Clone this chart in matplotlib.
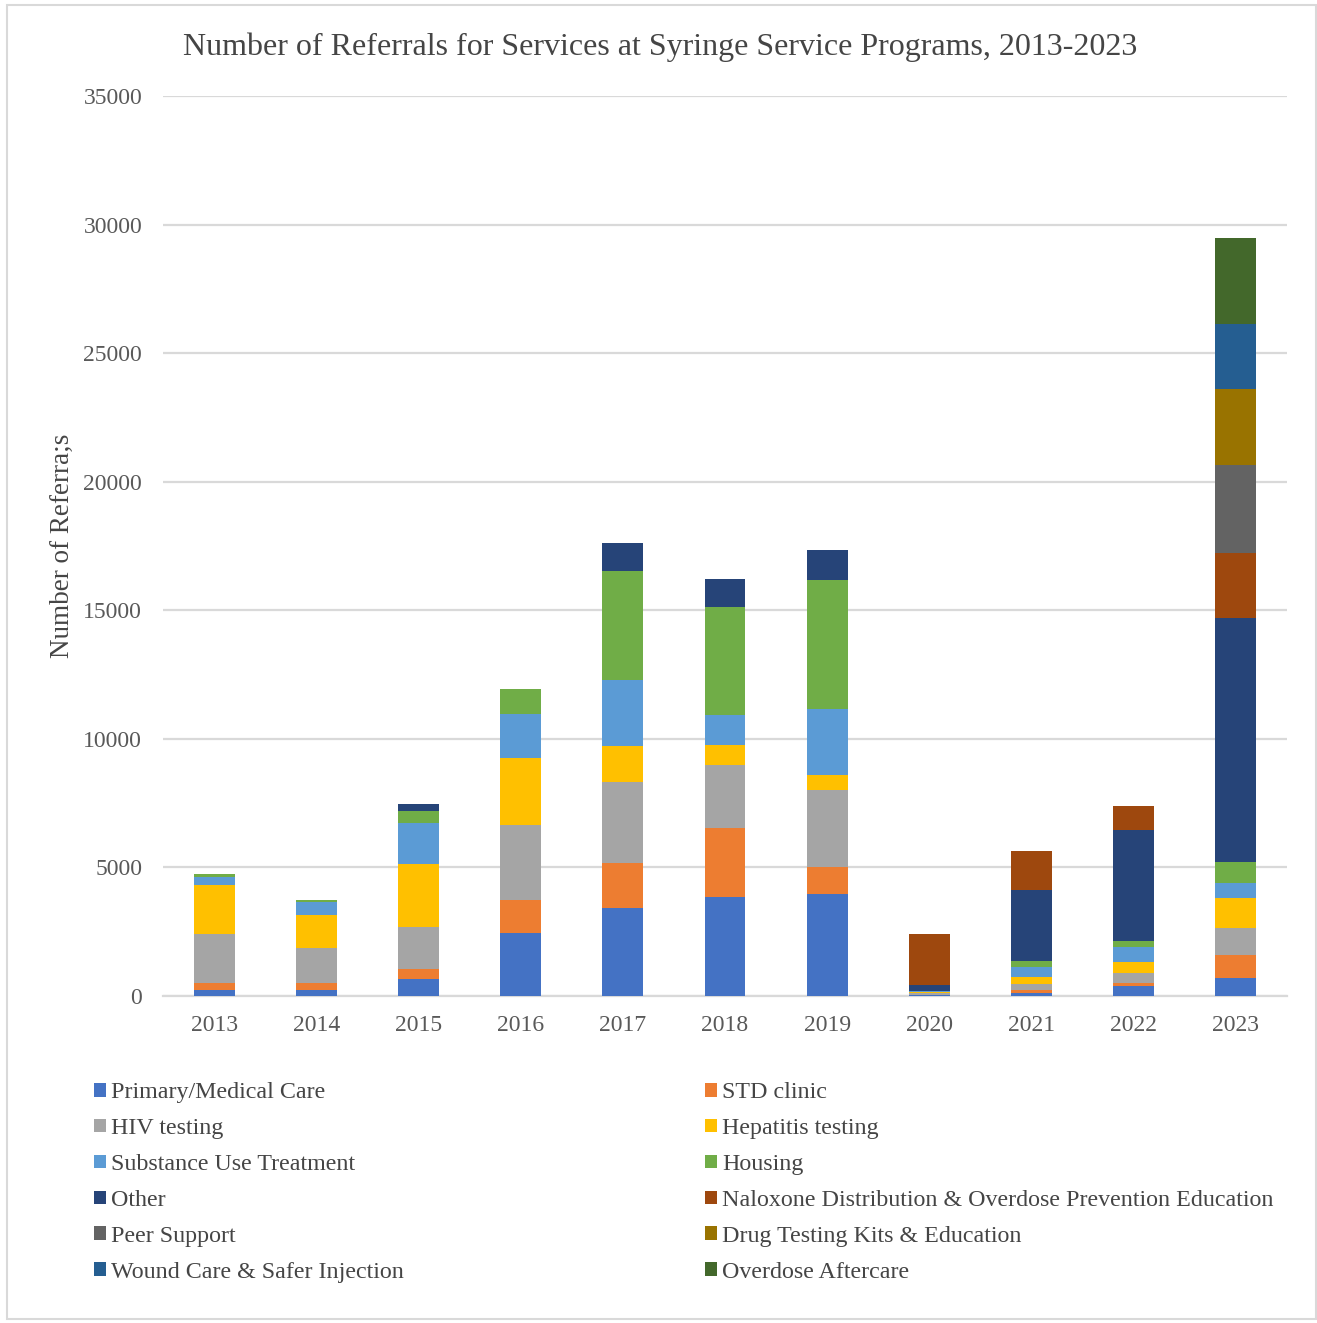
import numpy as np
import matplotlib
matplotlib.use('Agg')
import matplotlib.pyplot as plt
from matplotlib.patches import Rectangle, Patch

plt.rcParams['font.family'] = ['Liberation Serif', 'DejaVu Serif']

years = ['2013', '2014', '2015', '2016', '2017', '2018', '2019', '2020', '2021', '2022', '2023']

# Referrals per service, one value per year
primary_care = [230, 230, 660, 2460, 3430, 3860, 3970, 20, 100, 390, 690]
std_clinic = [260, 260, 380, 1270, 1750, 2660, 1060, 20, 130, 105, 885]
hiv_testing = [1920, 1360, 1630, 2900, 3125, 2460, 2970, 60, 230, 390, 1075]
hepatitis_testing = [1890, 1300, 2450, 2630, 1410, 780, 580, 60, 285, 450, 1175]
substance_use = [330, 520, 1590, 1700, 2570, 1170, 2580, 20, 390, 560, 585]
housing = [130, 70, 490, 970, 4250, 4210, 5015, 30, 235, 245, 785]
other = [0, 0, 250, 0, 1090, 1090, 1180, 220, 2750, 4315, 9500]
naloxone = [0, 0, 0, 0, 0, 0, 0, 1980, 1505, 935, 2545]
peer_support = [0, 0, 0, 0, 0, 0, 0, 0, 0, 0, 3425]
drug_testing = [0, 0, 0, 0, 0, 0, 0, 0, 0, 0, 2940]
wound_care = [0, 0, 0, 0, 0, 0, 0, 0, 0, 0, 2545]
overdose_aftercare = [0, 0, 0, 0, 0, 0, 0, 0, 0, 0, 3330]

series = [
    ('Primary/Medical Care', primary_care, '#4472C4'),
    ('STD clinic', std_clinic, '#ED7D31'),
    ('HIV testing', hiv_testing, '#A5A5A5'),
    ('Hepatitis testing', hepatitis_testing, '#FFC000'),
    ('Substance Use Treatment', substance_use, '#5B9BD5'),
    ('Housing', housing, '#70AD47'),
    ('Other', other, '#264478'),
    ('Naloxone Distribution & Overdose Prevention Education', naloxone, '#9E480E'),
    ('Peer Support', peer_support, '#636363'),
    ('Drug Testing Kits & Education', drug_testing, '#997300'),
    ('Wound Care & Safer Injection', wound_care, '#255E91'),
    ('Overdose Aftercare', overdose_aftercare, '#43682B'),
]

tick_color = '#595959'
text_color = '#454545'

fig = plt.figure(figsize=(13.17, 13.23), dpi=100)
ax = fig.add_axes([0.1238, 0.2472, 0.8534, 0.6802])

x = np.arange(len(years))
bottom = np.zeros(len(years))
handles = []
for name, vals, color in series:
    vals = np.array(vals, dtype=float)
    ax.bar(x, vals, 0.4, bottom=bottom, color=color, zorder=3)
    bottom += vals
    handles.append(Patch(facecolor=color, label=name))

ax.set_xlim(-0.5, len(years) - 0.5)
ax.set_ylim(0, 35000)
ax.set_yticks(range(0, 35001, 5000))
ax.set_xticks(x)
ax.set_xticklabels(years)
ax.tick_params(axis='both', length=0, labelsize=17, labelcolor=tick_color)
ax.tick_params(axis='y', pad=15)
ax.tick_params(axis='x', pad=14)
ax.grid(axis='y', color='#D9D9D9', linewidth=1.6, zorder=0)
for s in ['top', 'right', 'left']:
    ax.spines[s].set_visible(False)
ax.spines['bottom'].set_color('#D9D9D9')
ax.spines['bottom'].set_linewidth(1.6)

ax.set_ylabel('Number of Referra;s', fontsize=19.5, color=text_color)
ax.yaxis.set_label_coords(-0.078, 0.5)

fig.text(0.501, 0.964, 'Number of Referrals for Services at Syringe Service Programs, 2013-2023',
         ha='center', va='center', fontsize=23, color=text_color)

# legend laid out row by row in two columns
for col, xpos in enumerate([0.0713, 0.5353]):
    fig.legend(handles=handles[col::2], loc='upper left', bbox_to_anchor=(xpos, 0.182),
               frameon=False, fontsize=17.3, labelcolor=text_color,
               handlelength=0.5, handleheight=0.5, handletextpad=0.2,
               labelspacing=0.62, borderaxespad=0, borderpad=0)

fig.patches.append(Rectangle((0.005, 0.003), 0.994, 0.993, transform=fig.transFigure,
                             fill=False, edgecolor='#D9D9D9', linewidth=1.5))

plt.savefig('out.png')
